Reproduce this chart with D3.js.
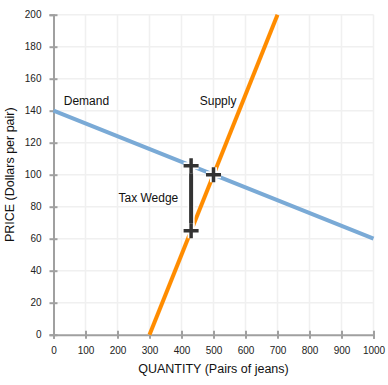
<!DOCTYPE html>
<html><head><meta charset="utf-8">
<script src="https://cdn.jsdelivr.net/npm/d3@7"></script>
<style>body{margin:0;background:#fff}svg{display:block;font-family:"Liberation Sans",Arial,sans-serif}</style>
</head><body><svg id="c" width="388" height="385"></svg>
<script>
const xTicks = [0,100,200,300,400,500,600,700,800,900,1000];
const yTicks = [0,20,40,60,80,100,120,140,160,180,200];
const demand = [[0,140],[1000,60]];
const supply = [[300,0],[700,200]];
const taxWedge = [[430,105.6],[430,65]];
const markers = [[430,105.6],[430,65],[500,100]];
const labels = [{t:"Demand",q:32,p:143.5},{t:"Supply",q:457,p:143.5},{t:"Tax Wedge",q:203,p:83}];

const svg = d3.select("#c");
const x = d3.scaleLinear().domain([0,1000]).range([53.5,373.5]);
const y = d3.scaleLinear().domain([0,200]).range([334.7,14.7]);

// grid
svg.append("g").selectAll("line").data(xTicks.slice(1)).join("line")
  .attr("x1",d=>x(d)).attr("x2",d=>x(d)).attr("y1",y(0)).attr("y2",y(200))
  .attr("stroke","#f0f0f0").attr("stroke-width",1.5);
svg.append("g").selectAll("line").data(yTicks.slice(1)).join("line")
  .attr("x1",x(0)).attr("x2",x(1000)).attr("y1",d=>y(d)).attr("y2",d=>y(d))
  .attr("stroke","#f0f0f0").attr("stroke-width",1.5);

// axes
const xa = svg.append("g").attr("transform",`translate(0,${y(0)})`)
  .call(d3.axisBottom(x).tickValues(xTicks).tickFormat(d3.format("d")).tickSize(4).tickPadding(8));
const ya = svg.append("g").attr("transform",`translate(${x(0)},0)`)
  .call(d3.axisLeft(y).tickValues(yTicks).tickFormat(d3.format("d")).tickSize(4).tickPadding(8));
[xa,ya].forEach(a=>{
  a.select(".domain").attr("stroke","#a0a0a0").attr("stroke-width",2);
  a.selectAll(".tick line").attr("stroke","#a0a0a0").attr("stroke-width",2);
  a.selectAll(".tick text").attr("fill","#222").attr("font-size",10).attr("font-family","Liberation Sans, Arial, sans-serif");
});
xa.selectAll(".tick line").attr("y1",-4);
ya.selectAll(".tick line").attr("x1",4);

const line = d3.line().x(d=>x(d[0])).y(d=>y(d[1]));
svg.append("path").datum(demand).attr("d",line).attr("stroke","#7aaad6").attr("stroke-width",4).attr("fill","none");
svg.append("path").datum(supply).attr("d",line).attr("stroke","#ff8c00").attr("stroke-width",4).attr("fill","none");
svg.append("path").datum(taxWedge).attr("d",line).attr("stroke","#fff").attr("stroke-width",7).attr("fill","none");
svg.append("path").datum(taxWedge).attr("d",line).attr("stroke","#333").attr("stroke-width",4).attr("fill","none");

const mg = svg.append("g");
markers.forEach(m=>{
  const cx=x(m[0]), cy=y(m[1]), s=7.5;
  const p=`M${cx-s},${cy}H${cx+s}M${cx},${cy-s}V${cy+s}`;
  mg.append("path").attr("d",p).attr("stroke","#fff").attr("stroke-width",7);
  mg.append("path").attr("d",p).attr("stroke","#333").attr("stroke-width",3.5);
});

svg.append("g").selectAll("text").data(labels).join("text")
  .attr("x",d=>x(d.q)).attr("y",d=>y(d.p)).text(d=>d.t)
  .attr("font-size",12).attr("fill","#111");

svg.append("text").attr("x",x(500)).attr("y",373).attr("text-anchor","middle")
  .attr("font-size",12.5).attr("fill","#111").text("QUANTITY (Pairs of jeans)");
svg.append("text").attr("transform",`translate(14,${y(100)}) rotate(-90)`).attr("text-anchor","middle")
  .attr("font-size",12.5).attr("fill","#111").text("PRICE (Dollars per pair)");
</script></body></html>
